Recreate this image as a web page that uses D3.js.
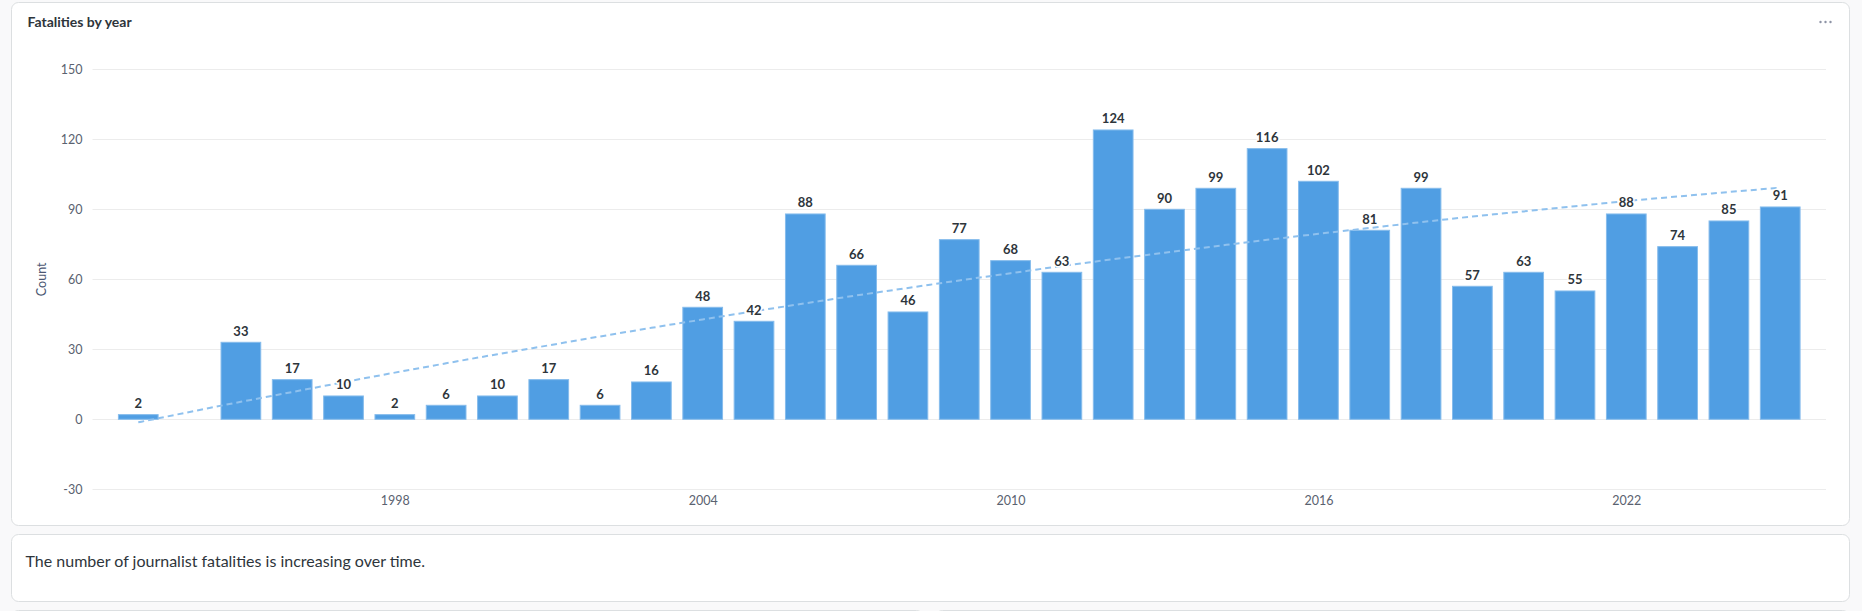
<!DOCTYPE html>
<html>
<head>
<meta charset="utf-8">
<script src="https://cdn.jsdelivr.net/npm/d3@7/dist/d3.min.js"></script>
<style>
  html, body { margin: 0; padding: 0; background: #f9f9fa; }
  svg { display: block; font-family: Lato, "Noto Sans", sans-serif; }
</style>
</head>
<body>
<svg id="chart" width="1862" height="611"></svg>
<script>
// ---- data ----
const years  = [1993, 1995, 1996, 1997, 1998, 1999, 2000, 2001, 2002, 2003, 2004, 2005, 2006, 2007, 2008, 2009,
                2010, 2011, 2012, 2013, 2014, 2015, 2016, 2017, 2018, 2019, 2020, 2021, 2022, 2023, 2024, 2025];
const counts = [2, 33, 17, 10, 2, 6, 10, 17, 6, 16, 48, 42, 88, 66, 46, 77,
                68, 63, 124, 90, 99, 116, 102, 81, 99, 57, 63, 55, 88, 74, 85, 91];
const trend  = [-1.3, 7.5, 11.7, 15.9, 20.0, 24.0, 27.9, 31.7, 35.5, 39.2, 42.8, 46.3, 49.7, 53.1, 56.3, 59.5,
                62.6, 65.7, 68.6, 71.4, 74.2, 76.9, 79.5, 82.0, 84.5, 86.9, 89.1, 91.3, 93.5, 95.5, 97.4, 99.3];
const yTicks = [-30, 0, 30, 60, 90, 120, 150];
const xTicks = [1998, 2004, 2010, 2016, 2022];
const title = "Fatalities by year";
const yTitle = "Count";
const note = "The number of journalist fatalities is increasing over time.";

// ---- layout ----
const svg = d3.select("#chart");
const plot = { left: 92.5, right: 1826, top: 69.3, bottom: 489.3 };

// cards
const cards = [
  { x: 11.5, y: 2.5, w: 1838, h: 523 },
  { x: 11.5, y: 534.5, w: 1838, h: 67 },
  { x: 11.5, y: 610.5, w: 912, h: 40 },
  { x: 935.5, y: 610.5, w: 914, h: 40 }
];
svg.selectAll("rect.card").data(cards).join("rect")
  .attr("class", "card")
  .attr("x", d => d.x).attr("y", d => d.y)
  .attr("width", d => d.w).attr("height", d => d.h)
  .attr("rx", 7).attr("ry", 7)
  .attr("fill", "#fff").attr("stroke", "#dcdfe1").attr("stroke-width", 1);

const x = d3.scaleLinear()
  .domain([d3.min(years) - 0.892, d3.max(years) + 0.892])
  .range([plot.left, plot.right]);
const y = d3.scaleLinear().domain([-30, 150]).range([plot.bottom, plot.top]);
const step = x(1) - x(0);
const bw = step * 0.774;

// gridlines
svg.append("g").selectAll("line").data(yTicks).join("line")
  .attr("x1", plot.left).attr("x2", plot.right)
  .attr("y1", d => Math.round(y(d)) + 0.5).attr("y2", d => Math.round(y(d)) + 0.5)
  .attr("stroke", "#ececec").attr("stroke-width", 1);

// y axis labels
const yAxis = d3.axisLeft(y).tickValues(yTicks).tickFormat(d => String(d)).tickSize(0).tickPadding(0);
const gy = svg.append("g").attr("transform", `translate(82.5,0)`).call(yAxis);
gy.select(".domain").remove();
gy.selectAll("text").attr("font-size", 12.5).attr("fill", "#5a6270")
  .attr("font-family", "Lato, sans-serif");

// x axis labels
const xAxis = d3.axisBottom(x).tickValues(xTicks).tickFormat(d => String(d)).tickSize(0).tickPadding(0);
const gx = svg.append("g").attr("transform", `translate(0,${plot.bottom + 7})`).call(xAxis);
gx.select(".domain").remove();
gx.selectAll("text").attr("font-size", 12.5).attr("fill", "#5a6270")
  .attr("font-family", "Lato, sans-serif");

// bars
svg.append("g").selectAll("rect").data(years).join("rect")
  .attr("x", (d) => x(d) - bw / 2)
  .attr("width", bw)
  .attr("y", (d, i) => Math.min(y(counts[i]), y(0)))
  .attr("height", (d, i) => Math.abs(y(0) - y(counts[i])))
  .attr("fill", "#509ee3")
  .attr("stroke", "#86bcec").attr("stroke-width", 1);

// trend line
const line = d3.line().x((d, i) => x(years[i])).y(d => y(d)).curve(d3.curveMonotoneX);
svg.append("path").datum(trend)
  .attr("d", line)
  .attr("fill", "none")
  .attr("stroke", "#8fc1ee")
  .attr("stroke-width", 2)
  .attr("stroke-dasharray", "6,4");

// data labels
svg.append("g").selectAll("text").data(years).join("text")
  .attr("x", d => x(d))
  .attr("y", (d, i) => y(counts[i]) - 6.5)
  .attr("text-anchor", "middle")
  .attr("font-size", 13)
  .attr("font-weight", 700)
  .attr("fill", "#2e353b")
  .attr("stroke", "#fff").attr("stroke-width", 3).attr("stroke-linejoin", "round")
  .attr("paint-order", "stroke")
  .text((d, i) => counts[i]);

// y title
svg.append("text")
  .attr("transform", `translate(46,${(plot.top + plot.bottom) / 2}) rotate(-90)`)
  .attr("text-anchor", "middle")
  .attr("font-size", 12.5)
  .attr("fill", "#4c5773")
  .text(yTitle);

// card title
svg.append("text")
  .attr("x", 27.5).attr("y", 26.5)
  .attr("font-size", 14).attr("font-weight", 700)
  .attr("fill", "#2e353b")
  .text(title);

// menu dots
svg.append("g").selectAll("circle").data([0, 1, 2]).join("circle")
  .attr("cx", d => 1820.5 + d * 5).attr("cy", 22)
  .attr("r", 1.2).attr("fill", "#8d93a5");

// note text
svg.append("text")
  .attr("x", 25.5).attr("y", 567)
  .attr("font-size", 16)
  .attr("fill", "#2e353b")
  .text(note);
</script>
</body>
</html>
